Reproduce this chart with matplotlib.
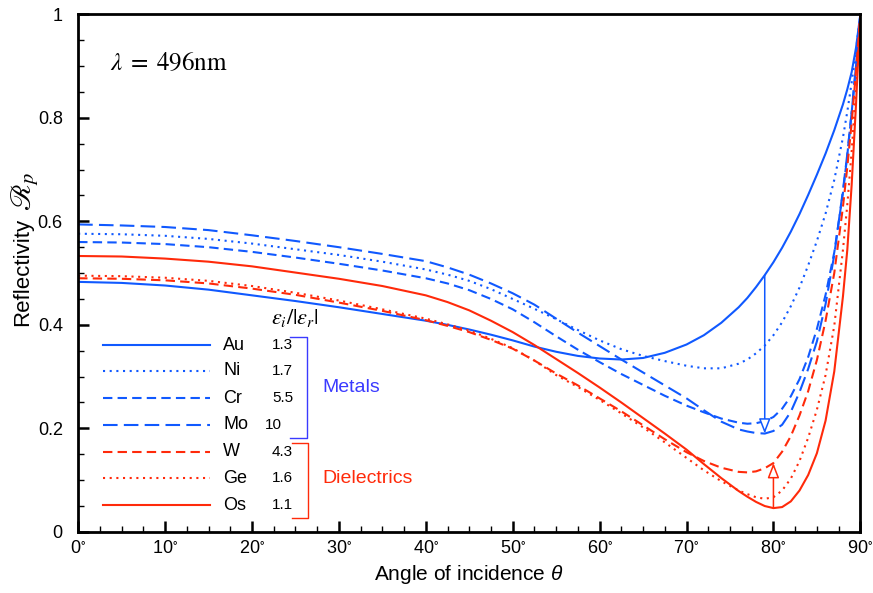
import numpy as np
import matplotlib
matplotlib.use("Agg")
import matplotlib.pyplot as plt
from matplotlib.ticker import MultipleLocator, FixedLocator

plt.rcParams['font.family'] = ['Liberation Sans', 'DejaVu Sans']
plt.rcParams['mathtext.fontset'] = 'custom'
plt.rcParams['mathtext.rm'] = 'Liberation Sans'
plt.rcParams['mathtext.it'] = 'Liberation Sans:italic'

# angle of incidence (deg) and p-reflectivity
theta = [0, 5, 10, 15, 20, 25, 30, 35, 40, 42.5, 45, 47.5, 50, 52.5, 55, 57.5, 60, 62.5,
         65, 67.5, 70, 72, 74, 76, 77, 78, 79, 80, 81, 82, 83, 84, 85, 86, 87, 88, 88.5,
         89, 89.5, 90]

r_au = [.483, .481, .476, .468, .457, .446, .434, .421, .408, .400, .391, .381, .370, .358,
        .348, .340, .335, .333, .336, .346, .362, .380, .404, .434, .452, .473, .496, .521,
        .549, .580, .614, .651, .690, .731, .776, .826, .855, .888, .935, 1.0]
r_ni = [.576, .575, .572, .566, .557, .546, .535, .522, .507, .497, .485, .469, .450, .431,
        .411, .390, .370, .353, .340, .330, .321, .316, .316, .325, .333, .345, .360, .380,
        .405, .436, .472, .515, .562, .615, .680, .762, .812, .868, .930, 1.0]
r_cr = [.560, .559, .556, .550, .541, .530, .518, .505, .490, .480, .467, .450, .430, .405,
        .378, .352, .328, .305, .284, .263, .244, .231, .219, .211, .209, .210, .214, .222,
        .238, .262, .295, .338, .392, .458, .540, .655, .728, .810, .900, 1.0]
r_mo = [.594, .592, .589, .583, .573, .562, .550, .537, .523, .511, .497, .480, .461, .439,
        .412, .385, .359, .333, .308, .283, .258, .235, .213, .198, .194, .191, .190, .195,
        .207, .232, .270, .315, .368, .440, .535, .660, .730, .810, .900, 1.0]
r_w = [.490, .489, .486, .480, .470, .458, .443, .427, .409, .398, .386, .371, .354, .331,
       .306, .283, .258, .233, .206, .179, .154, .137, .124, .116, .115, .117, .123, .133,
       .155, .185, .225, .272, .332, .408, .500, .628, .705, .790, .890, 1.0]
r_ge = [.495, .494, .491, .485, .475, .462, .447, .430, .412, .401, .389, .373, .355, .331,
        .303, .280, .255, .229, .202, .173, .143, .119, .098, .080, .073, .067, .064, .067,
        .080, .103, .137, .182, .236, .303, .398, .545, .632, .735, .855, 1.0]
r_os = [.533, .532, .528, .522, .513, .501, .489, .475, .457, .444, .428, .408, .386, .361,
        .334, .307, .279, .250, .220, .190, .159, .131, .104, .079, .068, .058, .050, .046,
        .048, .059, .080, .110, .152, .215, .310, .455, .545, .670, .825, 1.0]

names = ['Au', 'Ni', 'Cr', 'Mo', 'W', 'Ge', 'Os']
ratios = ['1.3', '1.7', '5.5', '10', '4.3', '1.6', '1.1']

blue = '#1059ff'
red = '#ff2a0a'
dot = (0, (1, 2.2))
dash = (0, (4.5, 2.5))
longdash = (0, (7, 3))

series = [
    (r_au, blue, '-'),
    (r_ni, blue, dot),
    (r_cr, blue, dash),
    (r_mo, blue, longdash),
    (r_w, red, dash),
    (r_ge, red, dot),
    (r_os, red, '-'),
]

fig = plt.figure(figsize=(8.73, 5.93), dpi=100)
ax = fig.add_axes([0.0895, 0.103, 0.896, 0.873])

for vals, c, ls in series:
    ax.plot(theta, vals, color=c, linestyle=ls, lw=1.5)

# arrows: Au -> Mo at Mo minimum, Os -> W at Os minimum
i_mo = int(np.argmin(r_mo))
ax.annotate('', xy=(theta[i_mo], r_mo[i_mo]), xytext=(theta[i_mo], r_au[i_mo]),
            arrowprops=dict(arrowstyle='-|>,head_length=0.9,head_width=0.35',
                            fc='white', ec=blue, lw=1.1, shrinkA=0, shrinkB=0))
i_os = int(np.argmin(r_os))
ax.annotate('', xy=(theta[i_os], r_w[i_os]), xytext=(theta[i_os], r_os[i_os]),
            arrowprops=dict(arrowstyle='-|>,head_length=0.9,head_width=0.35',
                            fc='white', ec=red, lw=1.1, shrinkA=0, shrinkB=0))

# hand-made legend
leg_y = [0.361, 0.311, 0.258, 0.207, 0.155, 0.104, 0.052]
num_x = [22.3, 22.3, 22.3, 21.5, 22.3, 22.3, 22.3]
for (vals, c, ls), nm, rt, yy, nx in zip(series, names, ratios, leg_y, num_x):
    ax.plot([2.9, 15.2], [yy, yy], color=c, linestyle=ls, lw=1.5)
    ax.text(16.7, yy, nm, fontsize=13, va='center', ha='left')
    ax.text(nx, yy, rt, fontsize=11, va='center', ha='left')

ax.text(24.9, 0.413, r'$\varepsilon_i/|\varepsilon_r|$', fontsize=16, ha='center',
        va='center', math_fontfamily='stix')
ax.plot([24.4, 26.3, 26.3, 24.4], [0.377, 0.377, 0.182, 0.182], color='#3a3aff', lw=1.0)
ax.plot([24.6, 26.4, 26.4, 24.6], [0.172, 0.172, 0.026, 0.026], color=red, lw=1.0)
ax.text(28.1, 0.279, 'Metals', fontsize=14, color='#3a3aff', va='center')
ax.text(28.1, 0.104, 'Dielectrics', fontsize=14, color=red, va='center')

ax.text(0.041, 0.905, r'$\lambda\;=\;496\mathrm{nm}$', transform=ax.transAxes,
        fontsize=18, va='center', math_fontfamily='stix')

ax.set_xlim(0, 90)
ax.set_ylim(0, 1)
ax.xaxis.set_major_locator(FixedLocator(range(0, 91, 10)))
ax.set_xticklabels([r'$\mathregular{%d^{\circ}}$' % v for v in range(0, 91, 10)])
ax.xaxis.set_minor_locator(MultipleLocator(2.5))
ax.yaxis.set_major_locator(FixedLocator([0, 0.2, 0.4, 0.6, 0.8, 1.0]))
ax.set_yticklabels(['0', '0.2', '0.4', '0.6', '0.8', '1'])
ax.yaxis.set_minor_locator(MultipleLocator(0.05))
ax.tick_params(which='both', direction='in', labelsize=13, top=False, right=False)
ax.tick_params(which='major', length=8, width=1.8, pad=6)
ax.tick_params(axis='y', which='major', pad=11)
ax.tick_params(which='minor', length=4, width=1.0)
for s in ax.spines.values():
    s.set_linewidth(2.0)

ax.set_xlabel(r'Angle of incidence $\theta$', fontsize=15, labelpad=4)
ax.set_ylabel('Reflectivity', fontsize=16, labelpad=4)
ax.yaxis.set_label_coords(-0.058, 0.503)
fig.text(0.029, 0.678, r'$\mathscr{R}_p$', fontsize=21, rotation=90,
         ha='center', va='center', math_fontfamily='stix')

fig.savefig('out.png', dpi=100)
